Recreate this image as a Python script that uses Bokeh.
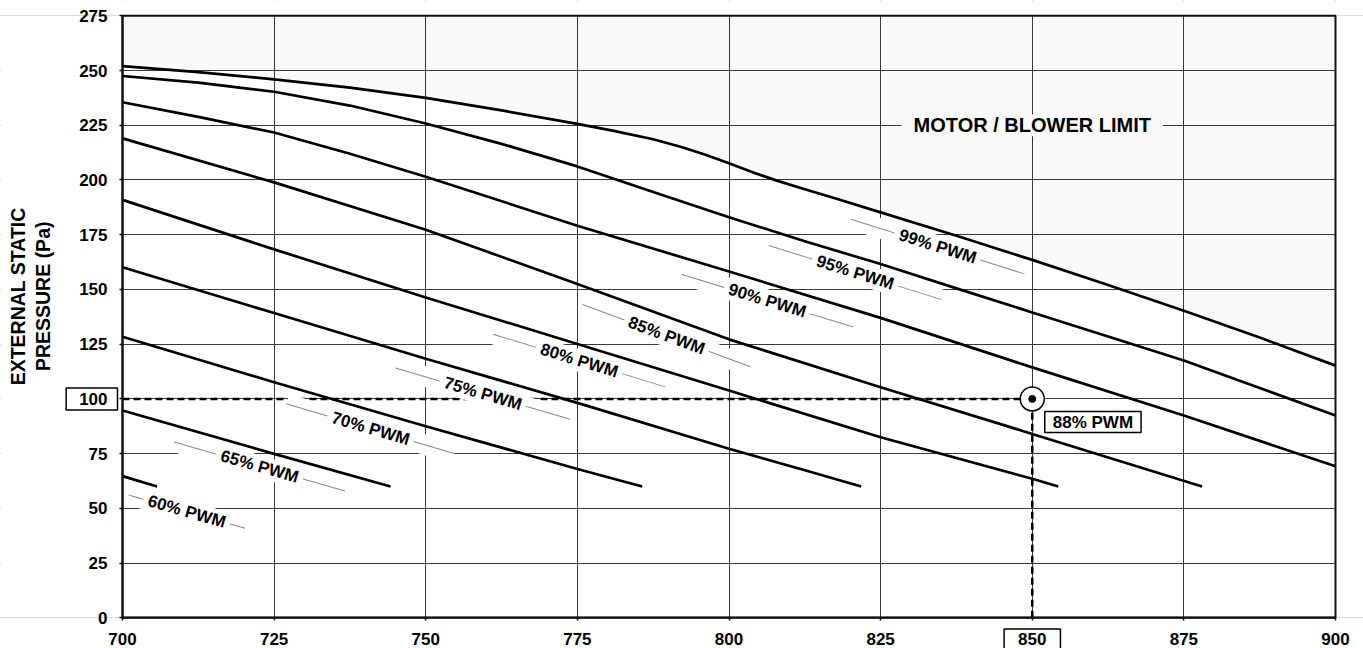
from bokeh.plotting import figure
from bokeh.models import Range1d, FixedTicker, Label
from bokeh.core.properties import value
from bokeh.embed import file_html
from bokeh.resources import INLINE

FONT = "Liberation Sans"

# ---------------- data ----------------
x_ticks = [700, 725, 750, 775, 800, 825, 850, 875, 900]
y_ticks = [0, 25, 50, 75, 100, 125, 150, 175, 200, 225, 250, 275]

x_99 = [700, 712.5, 725, 737.5, 750, 762.5, 775, 781, 787.5, 792, 796, 800, 804, 808,
        812.5, 818, 825, 837.5, 850, 862.5, 875, 887.5, 900]
y_99 = [252, 249.3, 246, 242.2, 237.5, 231.8, 225.6, 222.4, 218.6, 215.2, 211.6, 207.6,
        203.4, 199.6, 195.8, 191.2, 185.2, 174.5, 163.5, 152, 140.3, 128, 115.2]

x_95 = [700, 712.5, 725, 737.5, 750, 762.5, 775, 787.5, 800, 812.5, 825, 837.5, 850, 862.5, 875, 887.5, 900]
y_95 = [247.5, 244.5, 240.3, 234, 225.8, 216.5, 206.2, 194.5, 183, 172, 161.6, 150.5, 139.5, 128.5, 117.5, 105, 92.4]

x_90 = [700, 712.5, 725, 737.5, 750, 775, 800, 825, 850, 875, 900]
y_90 = [235.5, 228.8, 221.7, 212, 201.5, 179.1, 158.2, 137, 114.4, 92.4, 69.2]

x_85 = [700, 725, 750, 775, 800, 825, 850, 878]
y_85 = [219, 198.9, 177.3, 152.5, 127.2, 105.3, 84, 60]

x_80 = [700, 725, 750, 775, 800, 825, 850, 854.3]
y_80 = [190.9, 168.3, 146.3, 125.1, 103.8, 82.5, 63.5, 60]

x_75 = [700, 725, 750, 775, 800, 811.8, 821.8]
y_75 = [160.1, 139.2, 118.3, 98.2, 77.2, 68, 60]

x_70 = [700, 725, 750, 775, 785.7]
y_70 = [128.4, 107.6, 87.5, 68, 60]

x_65 = [700, 725, 744.2]
y_65 = [94.7, 74.9, 60]

x_60 = [700, 705.7]
y_60 = [64.7, 60]

curves_x = [x_60, x_65, x_70, x_75, x_80, x_85, x_90, x_95, x_99]
curves_y = [y_60, y_65, y_70, y_75, y_80, y_85, y_90, y_95, y_99]
pwm_names = ["60% PWM", "65% PWM", "70% PWM", "75% PWM", "80% PWM",
             "85% PWM", "90% PWM", "95% PWM", "99% PWM"]

# curve label placement (annotation positions)
label_x = [710.6, 722.6, 740.9, 759.4, 775.3, 789.7, 806.3, 820.8, 834.4]
label_y = [48.5, 69.1, 86.4, 102.4, 117.5, 128.9, 144.9, 157.7, 169.6]
label_angle = [-16, -16, -16.5, -16.4, -17, -20.3, -17, -17.4, -17.5]
leader_len = [121, 178, 176, 182, 180, 179, 180, 181, 182]

op_x = 850
op_y = 100
op_label = "88% PWM"
limit_label = "MOTOR / BLOWER LIMIT"
y_title = ["EXTERNAL STATIC", "PRESSURE (Pa)"]

# ---------------- layout (pixels) ----------------
W, H = 1363, 648
M_LEFT, M_RIGHT, M_TOP, M_BOTTOM = 122, 28, 15.3, 30.7
x0, x1 = x_ticks[0], x_ticks[-1]
y0, y1 = y_ticks[0], y_ticks[-1]
kx = (W - M_LEFT - M_RIGHT) / (x1 - x0)
ky = (H - M_TOP - M_BOTTOM) / (y1 - y0)
xs, xe = x0 - M_LEFT / kx, x1 + M_RIGHT / kx
ys, ye = y0 - M_BOTTOM / ky, y1 + M_TOP / ky

# the frame covers the whole canvas; axes are pinned to the plot box
p = figure(width=W, height=H, x_range=Range1d(xs, xe), y_range=Range1d(ys, ye),
           output_backend="svg", toolbar_location=None,
           min_border_left=0, min_border_right=0, min_border_top=0, min_border_bottom=0)
p.background_fill_color = "white"
p.border_fill_color = "white"
p.outline_line_color = None

for ax in (p.xaxis, p.yaxis):
    ax.axis_line_color = "#111111"
    ax.axis_line_width = 2
    ax.major_tick_line_color = "#111111"
    ax.major_tick_line_width = 1.5
    ax.major_tick_out = 3
    ax.major_tick_in = 0
    ax.minor_tick_line_color = None
    ax.major_label_text_font = FONT
    ax.major_label_text_font_style = "bold"
    ax.major_label_text_font_size = "17px"
    ax.major_label_text_color = "black"

p.xaxis.fixed_location = y0
p.yaxis.fixed_location = x0
p.xaxis.bounds = (x0, x1)
p.yaxis.bounds = (y0, y1)
p.xaxis.ticker = FixedTicker(ticks=x_ticks)
p.yaxis.ticker = FixedTicker(ticks=y_ticks)
p.xaxis.major_label_standoff = 12
p.yaxis.major_label_standoff = 12
p.xaxis.major_label_overrides = {op_x: ""}
p.yaxis.major_label_overrides = {op_y: ""}

p.xgrid.ticker = FixedTicker(ticks=x_ticks)
p.ygrid.ticker = FixedTicker(ticks=y_ticks)
for g in (p.xgrid, p.ygrid):
    g.grid_line_color = "#3a3a3a"
    g.grid_line_width = 1

# shaded region above the top curve
p.varea(x=x_99, y1=y_99, y2=[y1] * len(x_99), fill_color="black", fill_alpha=0.02)

# blank margins outside the plot box (hide grid there)
p.quad(left=[xs, xs, xs, x1], right=[xe, xe, x0, xe],
       bottom=[ys, y1, y0, y0], top=[y0, ye, y1, y1],
       fill_color="white", line_color=None)

# operating point reference lines
p.line([x0, op_x], [op_y, op_y], line_color="black", line_width=2.5, line_dash="7 4")
p.line([op_x, op_x], [y0, op_y], line_color="black", line_width=2.5, line_dash="7 4")

# label backgrounds and leaders
p.rect(x=label_x, y=label_y, width=leader_len, height=20, width_units="screen",
       height_units="screen", angle=label_angle, angle_units="deg",
       fill_color="white", line_color=None)
p.rect(x=label_x, y=label_y, width=leader_len, height=1, width_units="screen",
       height_units="screen", angle=label_angle, angle_units="deg",
       fill_color="#8a8a8a", line_color=None)
p.rect(x=label_x, y=label_y, width=90, height=22, width_units="screen",
       height_units="screen", angle=label_angle, angle_units="deg",
       fill_color="white", line_color=None)

# curves
for cx, cy in zip(curves_x, curves_y):
    p.line(cx, cy, line_color="black", line_width=2.7, line_join="round")

p.text(x=label_x, y=label_y, text=pwm_names, angle=label_angle, angle_units="deg",
       text_font=value(FONT), text_font_style="bold", text_font_size="17px",
       text_align="center", text_baseline="middle", text_color="black")

# operating point marker
p.scatter([op_x], [op_y], size=24, marker="circle", fill_color="white",
          line_color="black", line_width=1.5)
p.scatter([op_x], [op_y], size=7, marker="circle", fill_color="black", line_color="black")

# plot box border
p.quad(left=[x0], right=[x1], bottom=[y0], top=[y1], fill_color=None,
       line_color="#111111", line_width=2)

p.add_layout(Label(x=860, y=89.4, text=op_label, text_font=FONT, text_font_style="bold",
                   text_font_size="17px", text_align="center", text_baseline="middle",
                   text_color="black",
                   border_line_color="black", border_line_width=1.5,
                   background_fill_color="white",
                   padding=dict(left=8, right=8, top=1, bottom=1)))

p.add_layout(Label(x=850, y=225, text=limit_label, text_font=FONT, text_font_style="bold",
                   text_font_size="20px", text_align="center", text_baseline="middle",
                   text_color="black",
                   background_fill_color="#fafafa",
                   padding=dict(left=12, right=12, top=0, bottom=0)))

# boxed tick labels
p.add_layout(Label(x=x0 - 5 / kx, y=op_y, text=str(op_y), text_font=FONT,
                   text_font_style="bold", text_font_size="17px",
                   text_align="right", text_baseline="middle", text_color="black",
                   border_line_color="black", border_line_width=1.5,
                   background_fill_color="white",
                   padding=dict(left=13, right=10, top=5, bottom=5)))
p.add_layout(Label(x=op_x, y=y0 - 21.2 / ky, text=str(op_x), text_font=FONT,
                   text_font_style="bold", text_font_size="17px",
                   text_align="center", text_baseline="middle", text_color="black",
                   border_line_color="black", border_line_width=1.5,
                   background_fill_color="white",
                   padding=dict(left=14, right=14, top=4, bottom=4)))

# y axis title (two lines)
p.add_layout(Label(x=x0 - 104.5 / kx, y=y0 + 321.5 / ky, text=y_title[0], angle=90,
                   angle_units="deg", text_font=FONT, text_font_style="bold",
                   text_font_size="19.5px", text_align="center", text_baseline="middle",
                   text_color="black"))
p.add_layout(Label(x=x0 - 79.5 / kx, y=y0 + 321.5 / ky, text=y_title[1], angle=90,
                   angle_units="deg", text_font=FONT, text_font_style="bold",
                   text_font_size="19.5px", text_align="center", text_baseline="middle",
                   text_color="black"))

open("out.html", "w").write(file_html(p, INLINE))
